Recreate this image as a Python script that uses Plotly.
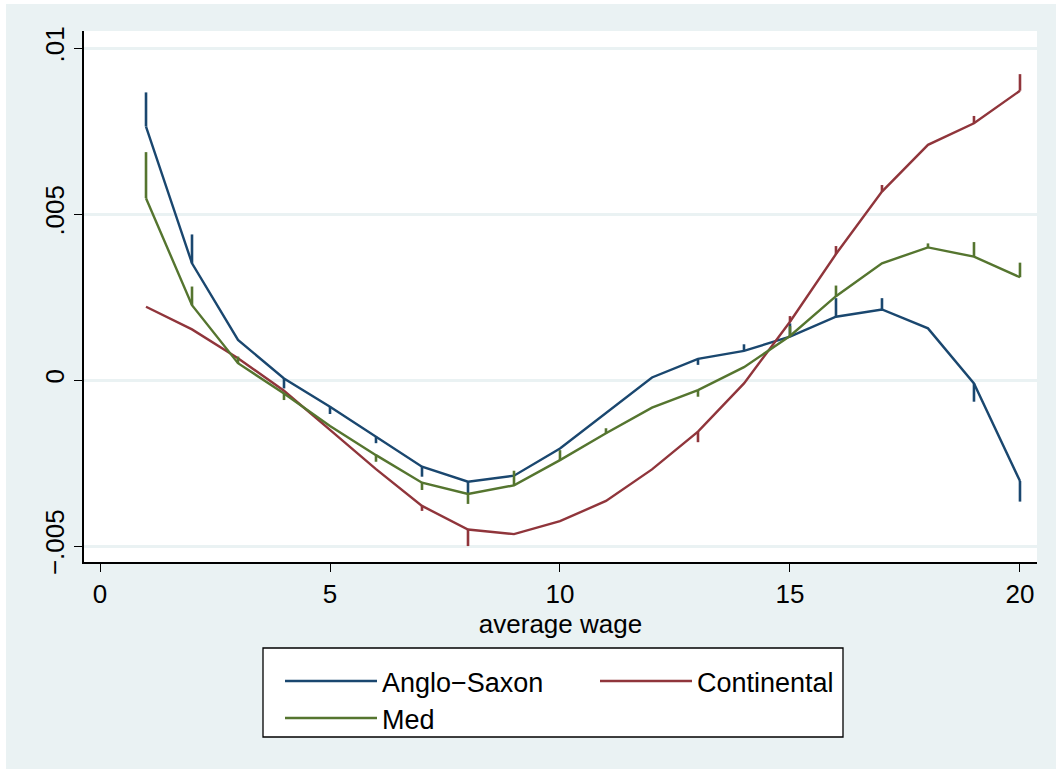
import plotly.graph_objects as go

# ---- data ----
wage = list(range(1, 21))

anglo = [0.00764, 0.00352, 0.00121, 0.00005, -0.0008, -0.0017, -0.00261, -0.00306, -0.00288, -0.00206,
         -0.00098, 0.00008, 0.00064, 0.00088, 0.00131, 0.00191, 0.00213, 0.00156, -0.0001, -0.00304]
anglo_spike = [0.00867, 0.00439, None, -0.00025, -0.00102, -0.0019, -0.00291, -0.00341, None, None,
               None, None, 0.00046, 0.00108, 0.00171, 0.00247, 0.00247, None, -0.00065, -0.00366]

continental = [0.00221, 0.00153, 0.00066, -0.00032, -0.0015, -0.00268, -0.00379, -0.0045, -0.00464, -0.00425,
               -0.00364, -0.00269, -0.00155, -0.0001, 0.00176, 0.0038, 0.00568, 0.00709, 0.00774, 0.00872]
continental_spike = [None, None, None, None, None, None, -0.00394, -0.005, None, None,
                     None, None, -0.00187, None, 0.00193, 0.00404, 0.00588, None, 0.00796, 0.00922]

med = [0.00548, 0.00226, 0.00051, -0.0004, -0.00138, -0.00226, -0.00309, -0.00343, -0.00317, -0.00241,
       -0.0016, -0.00083, -0.0003, 0.00039, 0.00133, 0.00253, 0.00352, 0.004, 0.00372, 0.0031]
med_spike = [0.00687, 0.00282, 0.00071, -0.0006, None, -0.00246, -0.00331, -0.00373, -0.00273, -0.00211,
             -0.00145, None, -0.0005, None, 0.00163, 0.00285, None, 0.00412, 0.00416, 0.00354]

series_names = ["Anglo−Saxon", "Continental", "Med"]
y_tickvals = [-0.005, 0, 0.005, 0.01]
y_ticktext = ["−.005", "0", ".005", ".01"]
x_tickvals = [0, 5, 10, 15, 20]

colors = ["#1A476F", "#90353B", "#55752F"]
legend_ids = ["legend", "legend", "legend2"]
legend_widths = [208, 140, 208]
BG = "#EAF2F3"
FONT = "Liberation Sans, Arial, sans-serif"

fig = go.Figure()


def spikes(vals, ends):
    up, down = [], []
    for v, e in zip(vals, ends):
        if e is None:
            up.append(0); down.append(0)
        elif e >= v:
            up.append(e - v); down.append(0)
        else:
            up.append(0); down.append(v - e)
    return up, down


for name, vals, ends, col, lg, lw in zip(series_names, [anglo, continental, med],
                                         [anglo_spike, continental_spike, med_spike], colors,
                                         legend_ids, legend_widths):
    up, down = spikes(vals, ends)
    fig.add_trace(go.Scatter(
        x=wage, y=vals, name=name, mode="lines",
        line=dict(color=col, width=2.4),
        legend=lg, legendwidth=lw,
        error_y=dict(type="data", symmetric=False, array=up, arrayminus=down,
                     color=col, thickness=2.6, width=0),
    ))

# plot area in pixels: x 84..1037, y 31..562
L, R, T, B = 84, 19, 31, 207
W, H = 1056, 769
pw, ph = W - L - R, H - T - B


def px(xp):
    return (xp - L) / pw


def py(yp):
    return (H - B - yp) / ph


legend_common = dict(
    orientation="h", xanchor="left", yanchor="top",
    bgcolor="rgba(0,0,0,0)", borderwidth=0,
    font=dict(size=27, family=FONT, color="black"),
    itemwidth=92, traceorder="normal",
)

fig.update_layout(
    width=W, height=H, autosize=False,
    margin=dict(l=L, r=R, t=T, b=B, pad=0, autoexpand=False),
    paper_bgcolor=BG, plot_bgcolor="white",
    font=dict(family=FONT, color="black", size=26),
    showlegend=True,
    legend=dict(x=px(280), y=py(657), **legend_common),
    legend2=dict(x=px(280), y=py(694), **legend_common),
    xaxis=dict(
        range=[-0.348, 20.37], tickvals=x_tickvals, ticks="outside", ticklen=8,
        tickwidth=1.2, tickcolor="black", showline=True, linecolor="black", linewidth=1.5,
        showgrid=False, zeroline=False, tickfont=dict(size=26),
        title=dict(text="average wage", font=dict(size=26), standoff=0),
    ),
    yaxis=dict(
        range=[-0.00548, 0.01052], tickvals=y_tickvals, ticktext=y_ticktext,
        tickangle=-90, ticks="outside", ticklen=8, tickwidth=1.2, tickcolor="black",
        showline=True, linecolor="black", linewidth=1.5,
        showgrid=True, gridcolor=BG, gridwidth=2.5, zeroline=False,
        tickfont=dict(size=26),
    ),
    shapes=[
        # white strips at the page edge
        dict(type="rect", xref="paper", yref="paper", x0=px(0), x1=px(W), y0=py(4), y1=py(0),
             fillcolor="white", line=dict(width=0), layer="above"),
        dict(type="rect", xref="paper", yref="paper", x0=px(0), x1=px(6), y0=py(H), y1=py(0),
             fillcolor="white", line=dict(width=0), layer="above"),
        # legend frame
        dict(type="rect", xref="paper", yref="paper", x0=px(263), x1=px(843), y0=py(737), y1=py(648),
             fillcolor="white", line=dict(color="black", width=1.3), layer="above"),
    ],
)

fig.write_html("out.html", post_script="document.body.style.margin='0px';",
               config={"displayModeBar": False})
